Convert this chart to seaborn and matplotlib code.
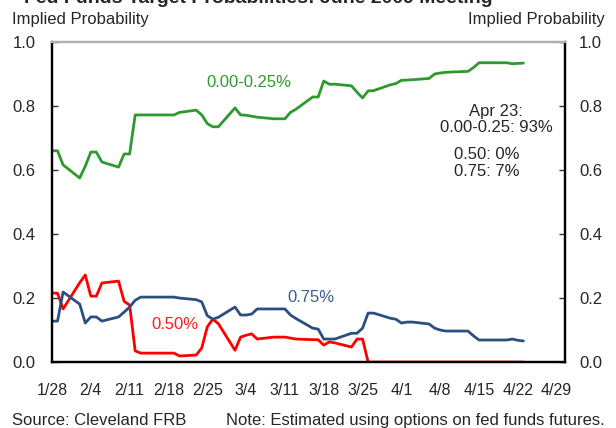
import numpy as np
import pandas as pd
import seaborn as sns
import matplotlib.pyplot as plt
import matplotlib.dates as mdates

# business days, 28 Jan - 23 Apr 2009
dates = ["2009-01-28", "2009-01-29", "2009-01-30",
         "2009-02-02", "2009-02-03", "2009-02-04", "2009-02-05", "2009-02-06",
         "2009-02-09", "2009-02-10", "2009-02-11", "2009-02-12", "2009-02-13",
         "2009-02-17", "2009-02-18", "2009-02-19", "2009-02-20",
         "2009-02-23", "2009-02-24", "2009-02-25", "2009-02-26", "2009-02-27",
         "2009-03-02", "2009-03-03", "2009-03-04", "2009-03-05", "2009-03-06",
         "2009-03-09", "2009-03-10", "2009-03-11", "2009-03-12", "2009-03-13",
         "2009-03-16", "2009-03-17", "2009-03-18", "2009-03-19", "2009-03-20",
         "2009-03-23", "2009-03-24", "2009-03-25", "2009-03-26", "2009-03-27",
         "2009-03-30", "2009-03-31", "2009-04-01", "2009-04-02", "2009-04-03",
         "2009-04-06", "2009-04-07", "2009-04-08", "2009-04-09", "2009-04-10",
         "2009-04-13", "2009-04-14", "2009-04-15", "2009-04-16", "2009-04-17",
         "2009-04-20", "2009-04-21", "2009-04-22", "2009-04-23"]

p_000_025 = [0.660, 0.660, 0.616,
             0.575, 0.612, 0.656, 0.656, 0.625,
             0.609, 0.650, 0.650, 0.772, 0.772,
             0.772, 0.772, 0.772, 0.780,
             0.787, 0.772, 0.745, 0.735, 0.735,
             0.794, 0.772, 0.771, 0.768, 0.765,
             0.760, 0.760, 0.760, 0.780, 0.790,
             0.828, 0.828, 0.878, 0.868, 0.868,
             0.863, 0.843, 0.825, 0.847, 0.848,
             0.866, 0.870, 0.880, 0.881, 0.882,
             0.886, 0.900, 0.903, 0.905, 0.906,
             0.908, 0.920, 0.935, 0.935, 0.935,
             0.935, 0.932, 0.933, 0.934]

p_050 = [0.216, 0.215, 0.166,
         0.248, 0.272, 0.206, 0.206, 0.247,
         0.253, 0.190, 0.178, 0.035, 0.028,
         0.028, 0.028, 0.028, 0.019,
         0.022, 0.044, 0.110, 0.134, 0.120,
         0.037, 0.078, 0.084, 0.088, 0.072,
         0.078, 0.078, 0.078, 0.075, 0.072,
         0.070, 0.070, 0.053, 0.063, 0.060,
         0.047, 0.072, 0.072, 0.000, 0.000,
         0.000, 0.000, 0.000, 0.000, 0.000,
         0.000, 0.000, 0.000, 0.000, 0.000,
         0.000, 0.000, 0.000, 0.000, 0.000,
         0.000, 0.000, 0.000, 0.000]

p_075 = [0.128, 0.128, 0.219,
         0.181, 0.122, 0.141, 0.141, 0.128,
         0.141, 0.156, 0.172, 0.193, 0.203,
         0.203, 0.203, 0.203, 0.200,
         0.195, 0.188, 0.145, 0.134, 0.140,
         0.172, 0.147, 0.147, 0.150, 0.166,
         0.166, 0.166, 0.166, 0.147, 0.136,
         0.106, 0.103, 0.072, 0.072, 0.072,
         0.090, 0.090, 0.106, 0.153, 0.153,
         0.137, 0.134, 0.122, 0.125, 0.125,
         0.119, 0.106, 0.100, 0.097, 0.097,
         0.097, 0.082, 0.069, 0.069, 0.069,
         0.069, 0.072, 0.068, 0.066]

series_names = ["0.00-0.25%", "0.50%", "0.75%"]
tick_dates = ["2009-01-28", "2009-02-04", "2009-02-11", "2009-02-18", "2009-02-25",
              "2009-03-04", "2009-03-11", "2009-03-18", "2009-03-25", "2009-04-01",
              "2009-04-08", "2009-04-15", "2009-04-22", "2009-04-29"]
tick_labels = ["1/28", "2/4", "2/11", "2/18", "2/25", "3/4", "3/11", "3/18",
               "3/25", "4/1", "4/8", "4/15", "4/22", "4/29"]
y_ticks = [0.0, 0.2, 0.4, 0.6, 0.8, 1.0]

green = "#2e9a2e"
red = "#ff0000"
blue = "#2b4f7e"

sns.set_theme(style="white")
plt.rcParams['font.family'] = ['Liberation Sans', 'DejaVu Sans']

df = pd.DataFrame({"date": pd.to_datetime(dates),
                   series_names[0]: p_000_025,
                   series_names[1]: p_050,
                   series_names[2]: p_075})
long = df.melt(id_vars="date", var_name="target", value_name="prob")

fig = plt.figure(figsize=(6.16, 4.28), dpi=100)
ax = fig.add_axes([0.0844, 0.154, 0.8328, 0.748])

sns.lineplot(data=long, x="date", y="prob", hue="target", hue_order=series_names,
             palette=[green, red, blue], linewidth=2.0, legend=False, ax=ax)

ax.set_xlim(pd.Timestamp("2009-01-28"), pd.Timestamp("2009-04-30 12:00"))
ax.set_ylim(0, 1.0)
ax.set_xlabel("")
ax.set_ylabel("")
ax.set_xticks(pd.to_datetime(tick_dates))
ax.set_xticklabels(tick_labels, fontsize=11.5)
ax.set_yticks(y_ticks)
ax.set_yticklabels([f"{v:.1f}" for v in y_ticks], fontsize=12)
ax.tick_params(axis="x", direction="in", length=5, width=1, color="#333333", pad=15)
ax.tick_params(axis="y", direction="in", length=4, width=1, color="#333333", pad=12)

ax2 = ax.twinx()
ax2.set_ylim(0, 1.0)
ax2.set_yticks(y_ticks)
ax2.set_yticklabels([f"{v:.1f}" for v in y_ticks], fontsize=12)
ax2.tick_params(axis="y", direction="in", length=4, width=1, color="#333333", pad=10)
ax2.grid(False)

for a in (ax, ax2):
    for side in ("left", "right", "bottom"):
        a.spines[side].set_color("black")
        a.spines[side].set_linewidth(1.6)
    a.spines["top"].set_color("#b0b0b0")
    a.spines["top"].set_linewidth(1.6)

# series labels
ax.text(0.384, 0.872, "0.00-0.25%", color=green, fontsize=12, ha="center", va="center",
        transform=ax.transAxes)
ax.text(0.240, 0.116, "0.50%", color="#ff1a1a", fontsize=12, ha="center", va="center",
        transform=ax.transAxes)
ax.text(0.505, 0.203, "0.75%", color="#3a5f91", fontsize=12, ha="center", va="center",
        transform=ax.transAxes)

# latest reading
ax.text(0.866, 0.758, "Apr 23:\n0.00-0.25: 93%", fontsize=12, ha="center", va="center",
        multialignment="center", linespacing=1.15, transform=ax.transAxes)
ax.text(0.848, 0.622, "0.50: 0%\n0.75: 7%", fontsize=12, ha="center", va="center",
        multialignment="center", linespacing=1.2, transform=ax.transAxes)

fig.text(0.019, 0.955, "Implied Probability", fontsize=12, ha="left", va="center")
fig.text(0.982, 0.955, "Implied Probability", fontsize=12, ha="right", va="center")
# title sits mostly above the visible area, as in the source image
fig.text(0.42, 0.993, "Fed Funds Target Probabilities: June 2009 Meeting",
         fontsize=14, fontweight="bold", ha="center", va="baseline")

fig.text(0.019, 0.018, "Source: Cleveland FRB", fontsize=12, ha="left", va="center")
fig.text(0.982, 0.018, "Note: Estimated using options on fed funds futures.",
         fontsize=12, ha="right", va="center")

fig.savefig("out.png", dpi=100)
